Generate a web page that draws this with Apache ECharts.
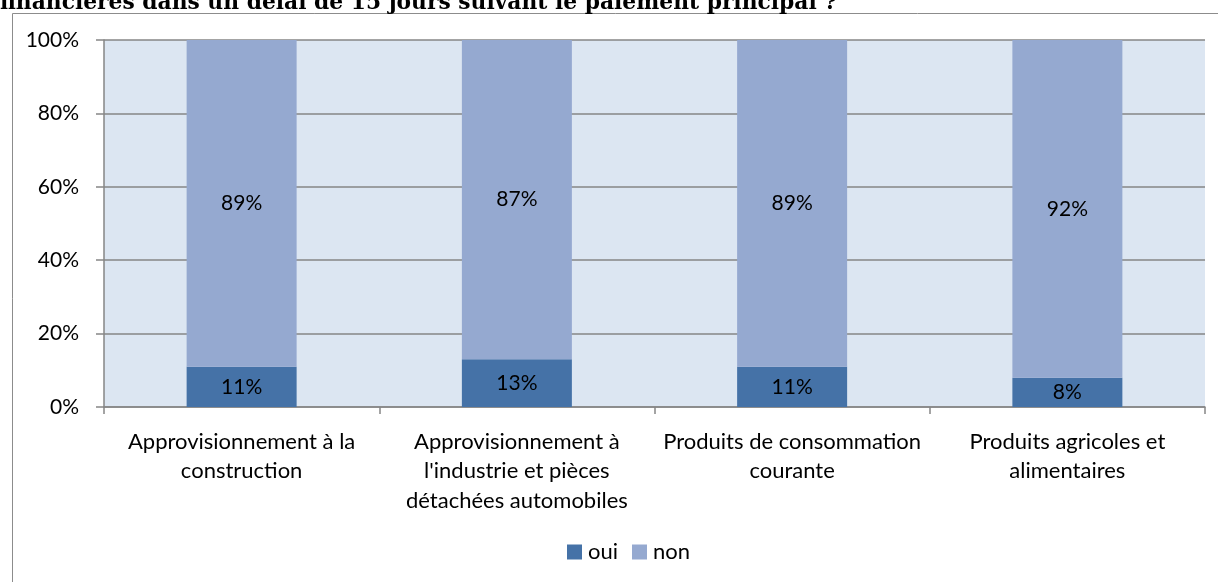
<!DOCTYPE html>
<html>
<head>
<meta charset="utf-8">
<script src="https://cdn.jsdelivr.net/npm/echarts@6/dist/echarts.min.js"></script>
<style>
html,body{margin:0;padding:0;background:#fff;}
#c{width:1218px;height:582px;}
</style>
</head>
<body>
<div id="c"></div>
<script>
const categories = [
  "Approvisionnement à la\nconstruction",
  "Approvisionnement à\nl'industrie et pièces\ndétachées automobiles",
  "Produits de consommation\ncourante",
  "Produits agricoles et\nalimentaires"
];
const ouiValues = [11, 13, 11, 8];
const nonValues = [89, 87, 89, 92];
const yTicks = [0, 20, 40, 60, 80, 100];
const titleText = "financières dans un délai de 15 jours suivant le paiement principal ?";

const FONT = 'Lato';
const FS = 21;
const chart = echarts.init(document.getElementById('c'), null, {renderer: 'canvas'});
chart.setOption({
  animation: false,
  backgroundColor: '#ffffff',
  textStyle: {fontFamily: FONT},
  graphic: [
    {type: 'rect', shape: {x: 12.5, y: 13.5, width: 1400, height: 800},
     style: {fill: 'none', stroke: '#8c8c8c', lineWidth: 1}, z: 0},
    {type: 'text', x: 0, y: 14,
     style: {text: titleText, font: 'bold 21.8px "DejaVu Serif"', fill: '#000', verticalAlign: 'bottom'}, z: 10}
  ],
  legend: {
    data: ['oui', 'non'],
    left: 562,
    top: 536,
    icon: 'rect',
    itemWidth: 15,
    itemHeight: 15,
    itemGap: 14,
    textStyle: {fontFamily: FONT, fontSize: 22, color: '#000', padding: [0, 0, 0, 1]}
  },
  grid: {
    left: 104, top: 40, right: 13, height: 367,
    show: true, backgroundColor: '#dce6f2', borderWidth: 0, containLabel: false
  },
  xAxis: {
    type: 'category',
    data: categories,
    axisLine: {show: true, lineStyle: {color: '#868686', width: 1.5}},
    axisTick: {show: true, length: 7, lineStyle: {color: '#868686', width: 1.5}},
    axisLabel: {fontFamily: FONT, fontSize: 22, color: '#000', lineHeight: 29.5, margin: 20, interval: 0},
    splitLine: {show: false}
  },
  yAxis: {
    type: 'value',
    min: yTicks[0], max: yTicks[yTicks.length - 1], interval: 20,
    axisLine: {show: true, lineStyle: {color: '#868686', width: 1.5}},
    axisTick: {show: true, length: 8, lineStyle: {color: '#868686', width: 1.5}},
    axisLabel: {fontFamily: FONT, fontSize: FS, color: '#000', margin: 25, formatter: '{value}%'},
    splitLine: {show: true, lineStyle: {color: '#868686', width: 1.5}}
  },
  series: [
    {name: 'oui', type: 'bar', stack: 'total', data: ouiValues, barWidth: 110,
     itemStyle: {color: '#4572a7'},
     label: {show: true, position: 'inside', formatter: '{c}%', fontFamily: FONT, fontSize: FS, color: '#000'}},
    {name: 'non', type: 'bar', stack: 'total', data: nonValues, barWidth: 110,
     itemStyle: {color: '#95a9d0'},
     label: {show: true, position: 'inside', formatter: '{c}%', fontFamily: FONT, fontSize: FS, color: '#000'}}
  ]
});
</script>
</body>
</html>
